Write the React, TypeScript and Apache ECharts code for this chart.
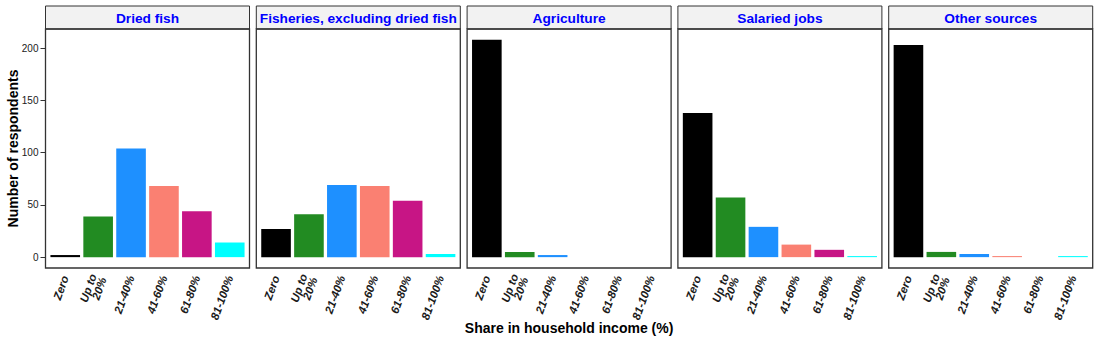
import React, { useEffect, useRef } from "react";
import * as echarts from "echarts";

const categories = ["Zero", "Up to\n20%", "21-40%", "41-60%", "61-80%", "81-100%"];
const panelTitles = ["Dried fish", "Fisheries, excluding dried fish", "Agriculture", "Salaried jobs", "Other sources"];
const driedFish = [2, 39, 104, 68, 44, 14];
const fisheries = [27, 41, 69, 68, 54, 3];
const agriculture = [208, 5, 2, 0, 0, 0];
const salaried = [138, 57, 29, 12, 7, 1];
const otherSources = [203, 5, 3, 1, 0, 1];
const barColors = ["#000000", "#228B22", "#1E90FF", "#FA8072", "#C71585", "#00FFFF"];
const yTicks = [0, 50, 100, 150, 200];
const yTitle = "Number of respondents";
const xTitle = "Share in household income (%)";

const panelData = [driedFish, fisheries, agriculture, salaried, otherSources];

export default function App() {
  const ref = useRef<HTMLDivElement>(null);
  useEffect(() => {
    if (!ref.current) return;
    const chart = echarts.init(ref.current, undefined, { renderer: "svg" });
    const PANEL_W = 204;
    const STEP = 210.8;
    const LEFT0 = 45.5;
    const TOP = 29;
    const BOTTOM = 268;
    const STRIP_TOP = 6;
    const band = PANEL_W / 6.2;
    const inset = band * 0.1;
    const maxVal = 208;
    const yMax = maxVal * 1.05;
    const yMin = -maxVal * 0.05;
    const fam = "'Liberation Sans', Arial, sans-serif";

    const grids: any[] = [];
    const xAxes: any[] = [];
    const yAxes: any[] = [];
    const series: any[] = [];
    const graphics: any[] = [];

    panelData.forEach((vals, i) => {
      const pl = LEFT0 + i * STEP;
      grids.push({
        left: pl + inset,
        width: PANEL_W - 2 * inset,
        top: TOP,
        height: BOTTOM - TOP,
        containLabel: false,
      });
      xAxes.push({
        type: "category",
        gridIndex: i,
        data: categories,
        axisLine: { show: false },
        axisTick: { show: false },
        axisLabel: {
          rotate: 70,
          margin: 8,
          interval: 0,
          fontStyle: "italic",
          fontWeight: "bold",
          fontSize: 11.5,
          lineHeight: 10.5,
          color: "#1a1a1a",
          fontFamily: fam,
        },
      });
      yAxes.push({
        type: "value",
        gridIndex: i,
        min: yMin,
        max: yMax,
        offset: inset,
        splitLine: { show: false },
        axisLine: { show: false },
        axisTick: {
          show: i === 0,
          length: 5,
          customValues: yTicks,
          lineStyle: { color: "#333" },
        },
        axisLabel: {
          show: i === 0,
          customValues: yTicks,
          fontSize: 10,
          color: "#1a1a1a",
          margin: 7,
          fontFamily: fam,
        },
      });
      series.push({
        type: "bar",
        xAxisIndex: i,
        yAxisIndex: i,
        barWidth: "90%",
        data: vals.map((v, k) => ({
          value: v,
          itemStyle: { color: barColors[k] },
        })),
      });
      graphics.push({
        type: "rect",
        shape: { x: pl, y: STRIP_TOP, width: PANEL_W, height: TOP - STRIP_TOP },
        style: { fill: "#F2F2F2", stroke: "#333", lineWidth: 1 },
        z: 10,
      });
      graphics.push({
        type: "text",
        x: pl + PANEL_W / 2,
        y: (STRIP_TOP + TOP) / 2 + 1,
        style: {
          text: panelTitles[i],
          fill: "#0000FF",
          font: `bold 13.7px ${fam}`,
          textAlign: "center",
          textVerticalAlign: "middle",
        },
        z: 11,
      });
      graphics.push({
        type: "rect",
        shape: { x: pl, y: TOP, width: PANEL_W, height: BOTTOM - TOP },
        style: { fill: "none", stroke: "#333", lineWidth: 1.3 },
        z: 10,
      });
    });

    graphics.push({
      type: "text",
      x: 13,
      y: (TOP + BOTTOM) / 2,
      rotation: Math.PI / 2,
      style: {
        text: yTitle,
        fill: "#000",
        font: `bold 14px ${fam}`,
        textAlign: "center",
        textVerticalAlign: "middle",
      },
    });
    graphics.push({
      type: "text",
      x: (LEFT0 + LEFT0 + 4 * STEP + PANEL_W) / 2,
      y: 328,
      style: {
        text: xTitle,
        fill: "#000",
        font: `bold 14px ${fam}`,
        textAlign: "center",
        textVerticalAlign: "middle",
      },
    });

    chart.setOption({
      animation: false,
      backgroundColor: "#ffffff",
      grid: grids,
      xAxis: xAxes,
      yAxis: yAxes,
      series,
      graphic: graphics,
    });
    return () => chart.dispose();
  }, []);
  return (
    <div
      ref={ref}
      style={{ position: "absolute", left: 0, top: 0, width: 1100, height: 343 }}
    />
  );
}
